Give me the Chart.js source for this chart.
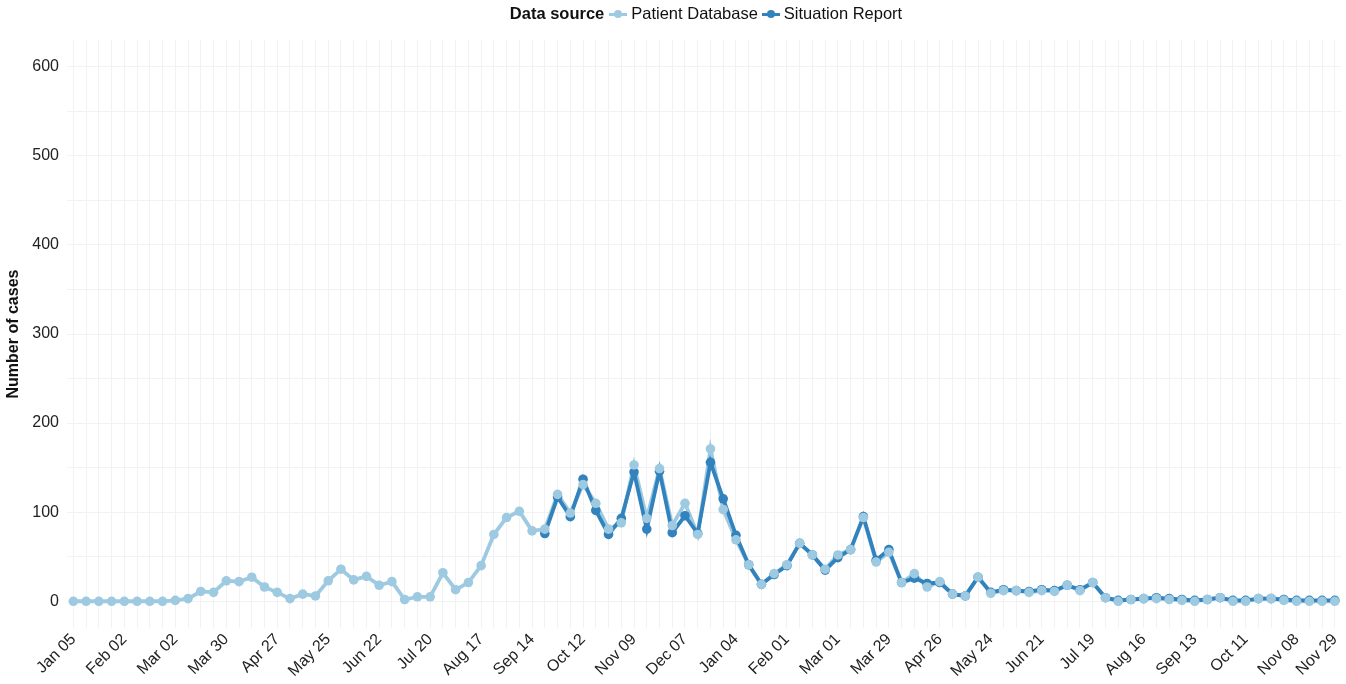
<!DOCTYPE html>
<html>
<head>
<meta charset="utf-8">
<script src="https://cdn.jsdelivr.net/npm/chart.js@4.4.1/dist/chart.umd.min.js"></script>
<style>
  html, body { margin: 0; padding: 0; background: #fff; }
  #wrap { position: relative; width: 1346px; height: 684px; }
  #legend {
    position: absolute; top: 0; left: 0; width: 1346px; height: 27px;
    display: flex; justify-content: center; align-items: center;
    font-family: "Liberation Sans", Arial, sans-serif; font-size: 16.5px; color: #111;
    padding-left: 70px; box-sizing: border-box;
  }
  #legend b { margin-right: 5px; }
  .key { position: relative; display: inline-block; width: 18px; height: 12px; margin-right: 4px; }
  .key i { position: absolute; left: 0; top: 5px; width: 18px; height: 3px; }
  .key s { position: absolute; left: 5px; top: 2px; width: 8px; height: 8px; border-radius: 50%; }
  .item { display: flex; align-items: center; margin-right: 4px; }
</style>
</head>
<body>
<div id="wrap">
  <div id="legend"></div>
  <canvas id="chart" width="1346" height="684"></canvas>
</div>
<script>
// 주간 날짜 (2014-01-05 ~ 2015-11-29, 100주)
const startDate = new Date(2014, 0, 5);
const monthNames = ["Jan", "Feb", "Mar", "Apr", "May", "Jun", "Jul", "Aug", "Sep", "Oct", "Nov", "Dec"];
const weekLabels = [];
for (let i = 0; i < 100; i++) {
  const d = new Date(startDate.getTime() + i * 7 * 86400000);
  weekLabels.push(monthNames[d.getMonth()] + " " + String(d.getDate()).padStart(2, "0"));
}
// 표시할 눈금 위치
const shownTickIndex = [0, 4, 8, 12, 16, 20, 24, 28, 32, 36, 40, 44, 48, 52, 56, 60, 64, 68, 72, 76, 80, 84, 88, 92, 96, 99];
const yGridValues = [0, 50, 100, 150, 200, 250, 300, 350, 400, 450, 500, 550, 600];
const yLabelValues = [0, 100, 200, 300, 400, 500, 600];

const seriesNames = ["Patient Database", "Situation Report"];
const seriesColors = ["#9ecae1", "#3182bd"];

const patientDatabase = [
  0, 0, 0, 0, 0, 0, 0, 0, 1, 3,
  11, 10, 23, 22, 27, 16, 10, 3, 8, 6,
  23, 36, 24, 28, 18, 22, 2, 5, 5, 32,
  13, 21, 40, 75, 94, 101, 79, 81, 120, 99,
  131, 110, 81, 88, 153, 93, 149, 85, 110, 75,
  171, 103, 69, 41, 19, 31, 41, 65, 52, 36,
  52, 58, 94, 44, 55, 21, 31, 16, 22, 8,
  6, 27, 9, 12, 12, 10, 12, 11, 18, 12,
  21, 4, 0, 2, 3, 3, 2, 1, 0, 2,
  4, 0, 0, 3, 3, 1, 0, 0, 0, 0
];

const situationReport = [
  null, null, null, null, null, null, null, null, null, null,
  null, null, null, null, null, null, null, null, null, null,
  null, null, null, null, null, null, null, null, null, null,
  null, null, null, null, null, null, null, 76, 117, 95,
  137, 102, 75, 93, 145, 81, 146, 77, 96, 76,
  156, 115, 74, 41, 19, 30, 40, 65, 52, 35,
  49, 58, 95, 46, 58, 21, 26, 20, 21, 8,
  6, 27, 10, 13, 12, 11, 13, 12, 18, 13,
  21, 4, 1, 2, 3, 4, 3, 2, 1, 2,
  4, 1, 1, 3, 3, 2, 1, 1, 1, 1
];

// 범례 (HTML)
const legendEl = document.getElementById("legend");
legendEl.innerHTML = "<b>Data source</b>" + seriesNames.map((name, i) =>
  `<span class="item"><span class="key"><i style="background:${seriesColors[i]}"></i><s style="background:${seriesColors[i]}"></s></span>${name}</span>`
).join("");

const FONT = "'Liberation Sans', Arial, sans-serif";

// 선은 먼저, 점은 나중에 그림 (order 값이 클수록 먼저 그려짐)
const lineSet = (data, color, order) => ({
  data, borderColor: color, backgroundColor: color, borderWidth: 3.8,
  pointRadius: 0, tension: 0, spanGaps: false, order
});
const pointSet = (data, color, order) => ({
  data, borderColor: color, backgroundColor: color, showLine: false,
  pointRadius: 4.8, pointBorderWidth: 0, order
});

new Chart(document.getElementById("chart").getContext("2d"), {
  type: "line",
  data: {
    labels: weekLabels,
    datasets: [
      lineSet(patientDatabase, seriesColors[0], 4),
      lineSet(situationReport, seriesColors[1], 3),
      pointSet(situationReport, seriesColors[1], 2),
      pointSet(patientDatabase, seriesColors[0], 1)
    ]
  },
  options: {
    responsive: false,
    animation: false,
    layout: { padding: { top: 40, right: -3, left: 0, bottom: 0 } },
    plugins: { legend: { display: false }, tooltip: { enabled: false } },
    scales: {
      x: {
        type: "category",
        offset: true,
        grid: { color: "#f2f2f2", lineWidth: 1, drawTicks: false, offset: false },
        border: { display: false },
        ticks: {
          autoSkip: false,
          minRotation: 45,
          maxRotation: 45,
          padding: 2,
          color: "#222",
          font: { family: FONT, size: 16 },
          callback: function (val, idx) {
            return shownTickIndex.includes(idx) ? this.getLabelForValue(val) : "";
          }
        },
        afterFit: (s) => { s.height = 56; s.paddingRight = 0; s.paddingLeft = 0; }
      },
      y: {
        min: -30,
        max: 630,
        grid: { color: "#f2f2f2", lineWidth: 1, drawTicks: false },
        border: { display: false },
        afterBuildTicks: (s) => { s.ticks = yGridValues.map((v) => ({ value: v })); },
        ticks: {
          padding: 8,
          color: "#222",
          font: { family: FONT, size: 16 },
          callback: (v) => (yLabelValues.includes(v) ? String(v) : "")
        },
        title: {
          display: true,
          text: "Number of cases",
          color: "#111",
          font: { family: FONT, size: 16, weight: "bold" },
          padding: { top: 4, bottom: 4 }
        },
        afterFit: (s) => { s.width = 67; }
      }
    }
  }
});
</script>
</body>
</html>
